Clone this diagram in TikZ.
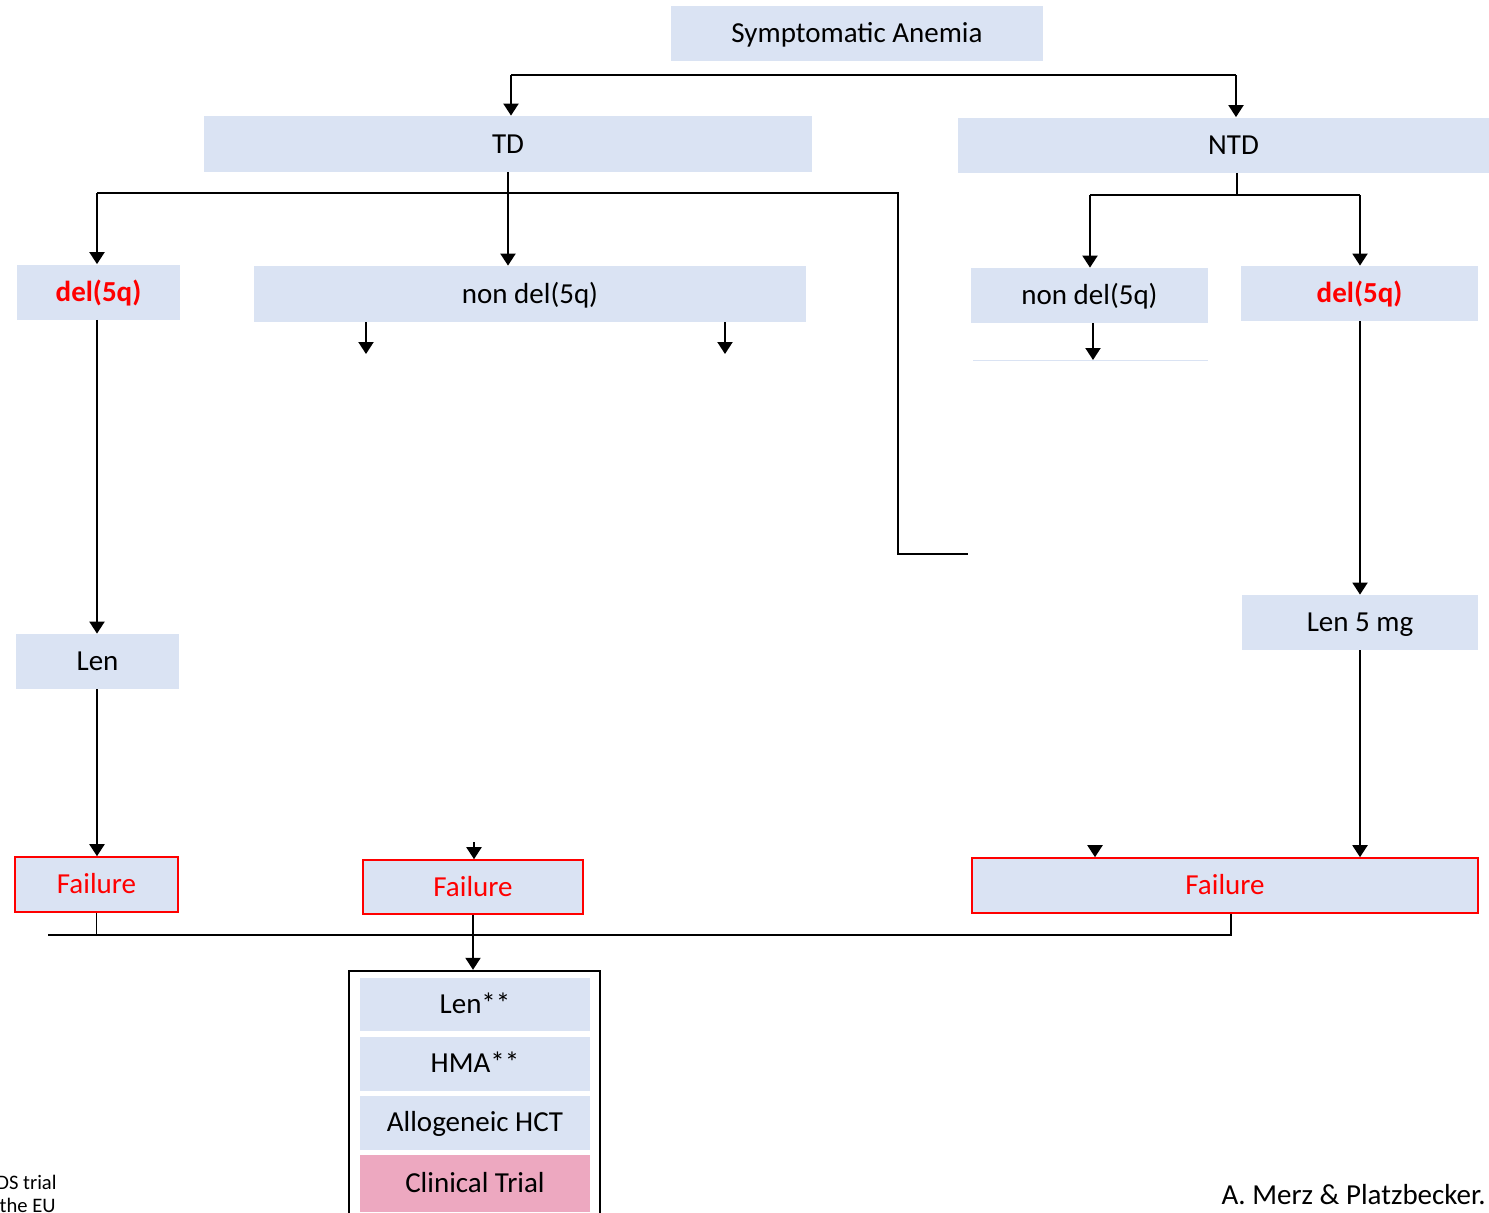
\documentclass[tikz,border=0pt]{standalone}
\usepackage{fontspec}
\setmainfont{Carlito}
\usetikzlibrary{arrows.meta,positioning,calc}
\definecolor{boxblue}{HTML}{DAE3F3}
\definecolor{trialpink}{HTML}{EDA8C0}
\definecolor{failred}{HTML}{FF0000}

\begin{document}
\begin{tikzpicture}[x=0.5pt, y=-0.5pt,
  font=\fontsize{14.5}{17}\selectfont,
  n/.style={fill=boxblue, inner sep=0pt, minimum height=27.5pt, align=center,
            text height=9.3pt, text depth=0pt},
  del/.style={n, text=failred, font=\fontsize{14.5}{17}\selectfont\bfseries},
  fail/.style={n, draw=failred, line width=0.8pt, text=failred},
  opt/.style={n, minimum width=115pt, minimum height=27pt},
  e/.style={-{Triangle[length=6pt,width=7.5pt]}, line width=1pt},
  ln/.style={line width=0.75pt},
  note/.style={inner sep=0pt}]

% picture is 1489 x 1212 px, one px is half a point
\clip (0,0) rectangle (1489,1212);

\node[n, minimum width=186pt] (sym) at (857,33) {Symptomatic Anemia};

\node[n, minimum width=304pt, minimum height=28pt] (td) at (508,144) {TD};
\node[n, minimum width=265.5pt] (ntd) at (1223.5,145) {\hspace{10pt}NTD};

\node[del, minimum width=81.5pt] (delL) at (98.5,292) {del(5q)};
\node[n, minimum width=276pt, minimum height=28pt] (nonL) at (530,294)
      {non del(5q)};
\node[n, minimum width=118.5pt] (nonR) at (1089.5,295.5) {non del(5q)};
\node[del, minimum width=118.5pt] (delR) at (1359.5,293.5) {del(5q)};

\node[n, minimum width=118pt] (len5) at (1360,622.5) {Len 5 mg};
\node[n, minimum width=81.5pt] (lenL) at (97.5,661.5) {Len};

\node[fail, minimum width=81.5pt] (failL) at (96.5,884.5) {Failure};
\node[fail, minimum width=110pt, minimum height=27pt] (failM) at (473,887)
      {Failure};
\node[fail, minimum width=253pt] (failR) at (1225,885.5) {Failure};

% options box at the bottom
\node[draw, line width=1.2pt, inner sep=0pt, minimum width=125.5pt,
      minimum height=125pt] (opts) at (474.5,1096) {};
\node[opt, minimum height=26.5pt] (len2) at (475,1004.5) {Len**};
\node[opt] (hma) at (475,1063.5) {HMA**};
\node[opt] (hct) at (475,1122.5) {Allogeneic HCT};
\node[opt, fill=trialpink, minimum height=28.5pt] (trial) at (475,1183.5)
      {Clinical Trial};

\node[note, anchor=base east, font=\fontsize{10.3}{12}\selectfont] (ds1)
      at (57,1189) {DS trial};
\node[note, anchor=base east, font=\fontsize{10.3}{12}\selectfont] (ds2)
      at (56,1212) {the EU};
\node[note, anchor=base east] (cite) at (1486,1204) {A. Merz \& Platzbecker.};

% junction points
\coordinate (j1) at (511,75);
\coordinate (j2) at (1236,75);
\coordinate (b1) at (97,193);
\coordinate (b2) at (898,193);
\coordinate (b3) at (968,554);
\coordinate (n0) at (1237,195);
\coordinate (n1) at (1090,195);
\coordinate (n2) at (1360,195);
\coordinate (s1) at (366,354);
\coordinate (s2) at (725,354);
\coordinate (s3) at (1093,360);
\coordinate (h1) at (474,842);
\coordinate (h2) at (1095,846);
\coordinate (c1) at (48,935);
\coordinate (c2) at (1231,935);

\draw[ln] (j1) -- (j2);
\draw[e] (j1) -- (j1 |- td.north);
\draw[e] (j2) -- (j2 |- ntd.north);

\draw[e] (td.south) -- (td.south |- nonL.north);
\draw[ln] (b1) -- (b2) |- (b3);
\draw[e] (b1) -- (b1 |- delL.north);

\draw[ln] (n0 |- ntd.south) -- (n0);
\draw[ln] (n1) -- (n2);
\draw[e] (n1) -- (n1 |- nonR.north);
\draw[e] (n2) -- (n2 |- delR.north);

\draw[e] (s1 |- nonL.south) -- (s1);
\draw[e] (s2 |- nonL.south) -- (s2);
\draw[e] (s3 |- nonR.south) -- (s3);
\draw[boxblue, line width=0.5pt] (973,360) -- (1208,360);

\draw[e] (b1 |- delL.south) -- (b1 |- lenL.north);
\draw[e] (b1 |- lenL.south) -- (b1 |- failL.north);
\draw[e] (len5.north |- delR.south) -- (len5.north);
\draw[e] (len5.south) -- (len5.south |- failR.north);

\draw[e] (h1) -- (h1 |- failM.north);
\draw[e] (h2) -- (h2 |- failR.north);

\draw[ln] (failL.south) -- (failL.south |- c1);
\draw[ln] (c1) -- (c2) -- (c2 |- failR.south);
\draw[e] (failM.south) -- (failM.south |- opts.north);

\end{tikzpicture}
\end{document}
